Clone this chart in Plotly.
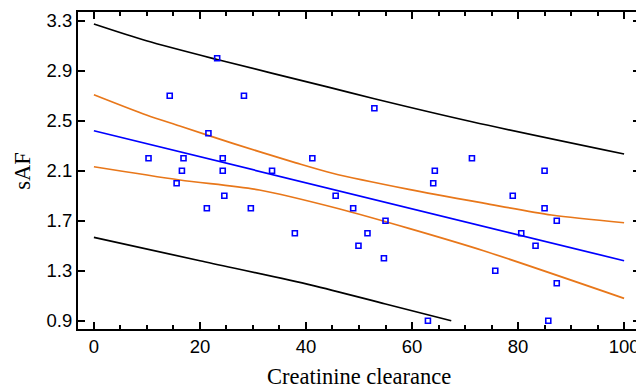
import plotly.graph_objects as go

# Observed data points (Creatinine clearance, sAF)
cc = [23.25, 14.3, 28.3, 21.6, 10.3, 16.9, 24.3, 41.2, 16.6, 24.3, 33.6, 15.6, 24.6,
      52.9, 71.3, 64.3, 85.0, 64.0, 79.0, 45.6,
      21.3, 29.6, 37.9,
      48.9, 85.0, 55.0, 87.3, 51.6, 80.6, 49.9, 83.3, 54.7, 75.7, 87.3, 63.0, 85.7]
saf = [3.0, 2.7, 2.7, 2.4, 2.2, 2.2, 2.2, 2.2, 2.1, 2.1, 2.1, 2.0, 1.9,
       2.6, 2.2, 2.1, 2.1, 2.0, 1.9, 1.9,
       1.8, 1.8, 1.6,
       1.8, 1.8, 1.7, 1.7, 1.6, 1.6, 1.5, 1.5, 1.4, 1.3, 1.2, 0.9, 0.9]

# Regression line
reg_x = [0, 100]
reg_y = [2.42, 1.38]

# Confidence band (orange)
ci_up_x = [0, 9.9, 16.2, 26.2, 38.1, 45.0, 59.4, 73.5, 86.3, 100]
ci_up_y = [2.708, 2.546, 2.458, 2.319, 2.163, 2.080, 1.951, 1.841, 1.746, 1.684]
ci_lo_x = [0, 16.2, 31.2, 46.2, 59.4, 73.5, 100]
ci_lo_y = [2.132, 2.026, 1.946, 1.796, 1.639, 1.460, 1.079]

# Prediction band (black)
pi_up_x = [0, 9.9, 23.25, 44.4, 52.9, 71.3, 100]
pi_up_y = [3.274, 3.140, 2.990, 2.767, 2.676, 2.492, 2.234]
pi_lo_x = [0, 20, 41, 55, 67.4]
pi_lo_y = [1.567, 1.380, 1.185, 1.034, 0.900]

y_ticks = [0.9, 1.3, 1.7, 2.1, 2.5, 2.9, 3.3]
x_ticks = [0, 20, 40, 60, 80, 100]

x_title = "Creatinine clearance"
y_title = "sAF"

ORANGE = "#E8771A"
BLUE = "#0000FF"
SERIF = "Liberation Serif, Times New Roman, serif"

fig = go.Figure()
line_w = 1.7
def band(x, y, color):
    return go.Scatter(x=x, y=y, mode="lines", line=dict(color=color, width=line_w, shape="spline", smoothing=0.8))

fig.add_trace(band(pi_up_x, pi_up_y, "black"))
fig.add_trace(band(pi_lo_x, pi_lo_y, "black"))
fig.add_trace(band(ci_up_x, ci_up_y, ORANGE))
fig.add_trace(band(ci_lo_x, ci_lo_y, ORANGE))
fig.add_trace(go.Scatter(x=reg_x, y=reg_y, mode="lines", line=dict(color=BLUE, width=line_w)))
fig.add_trace(go.Scatter(x=cc, y=saf, mode="markers",
                         marker=dict(symbol="square-open", size=5, color=BLUE, line=dict(width=1.6, color=BLUE))))

# The page body has an 8px default margin, so the figure is sized to fit inside the window
fig.update_layout(
    width=636, height=384,
    margin=dict(l=70, r=2, t=4, b=63),
    paper_bgcolor="white", plot_bgcolor="white",
    showlegend=False,
    font=dict(family="Liberation Sans, Arial, sans-serif", size=18.5, color="black"),
    annotations=[
        dict(text=x_title, xref="paper", yref="paper", x=0.5, y=-0.151, xanchor="center", yanchor="middle",
             showarrow=False, font=dict(family=SERIF, size=22.5)),
        dict(text=y_title, xref="paper", yref="paper", x=-0.0993, y=0.5, xanchor="center", yanchor="middle",
             textangle=-90, showarrow=False, font=dict(family=SERIF, size=22.5)),
    ],
)
fig.update_xaxes(
    range=[-3, 103], tickvals=x_ticks, ticks="inside", ticklen=7, tickwidth=1.5, tickcolor="black",
    showline=True, linecolor="black", linewidth=2, mirror="ticks", showgrid=False, zeroline=False,
    minor=dict(dtick=5, ticks="inside", ticklen=4, tickwidth=1.5, tickcolor="black", showgrid=False),
)
fig.update_yaxes(
    range=[0.834, 3.37], tickvals=y_ticks, tickformat=".1f", ticks="inside", ticklen=7, tickwidth=1.5,
    tickcolor="black", showline=True, linecolor="black", linewidth=2, mirror="ticks", showgrid=False,
    zeroline=False,
)

fig.write_html("out.html")
